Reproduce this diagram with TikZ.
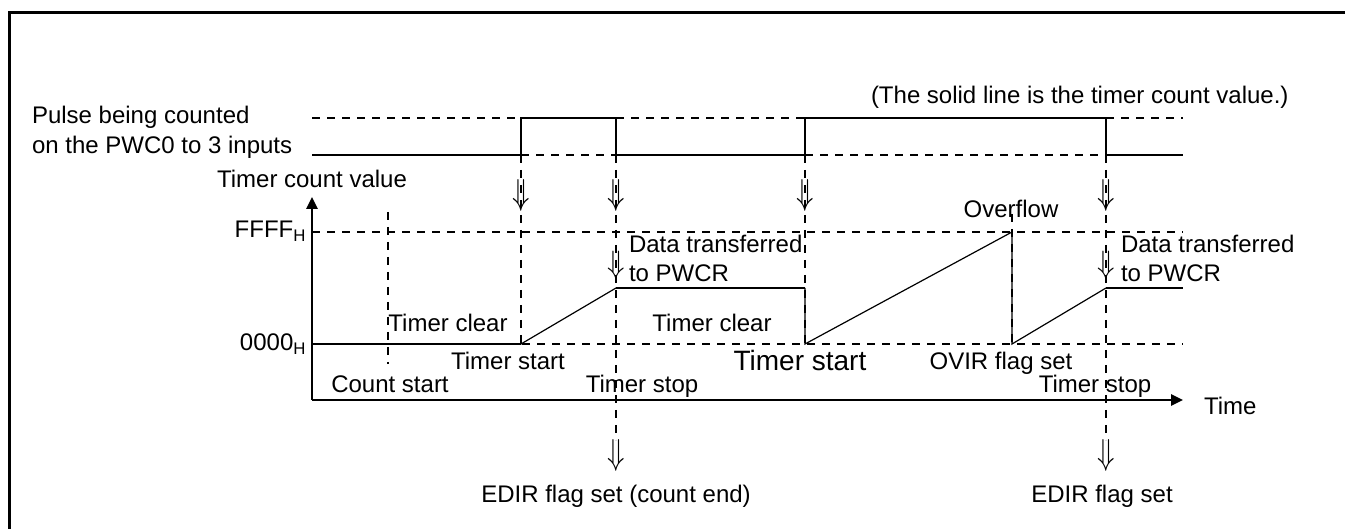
\documentclass[tikz,border=0pt]{standalone}
\usepackage{fontspec}
\setmainfont{Liberation Sans}
\usetikzlibrary{arrows.meta}

\begin{document}
\begin{tikzpicture}[x=1pt, y=-1pt, line width=2pt,
    dashln/.style={line width=1.8pt, dash pattern=on 8pt off 7pt},
    lbl/.style={font=\fontsize{24}{28}\selectfont, inner sep=0pt},
    dnarr/.style={font=\fontsize{24}{28}\selectfont, inner sep=0pt}]
  \useasboundingbox (0,0) rectangle (1345,529);
  % frame (only top and left edges show)
  \draw[line width=3pt] (9,529) -- (9,13) -- (1345,13);

  % input pulse
  \draw[line width=2.2pt] (312,155) -- (521,155) -- (521,118) -- (616,118) -- (616,155)
      -- (805,155) -- (805,118) -- (1106,118) -- (1106,155) -- (1183,155);
  \draw[dashln] (312,118) -- (521,118) (616,118) -- (805,118) (1106,118) -- (1183,118);
  \draw[dashln] (521,155) -- (616,155) (805,155) -- (1106,155);
  \node[lbl, anchor=base west] (pulse1) at (31,124) {Pulse being counted};
  \node[lbl, anchor=base west] (pulse2) at (31,154) {on the PWC0 to 3 inputs};
  \node[lbl, anchor=base west] (note) at (870,104) {(The solid line is the timer count value.)};

  % axes
  \coordinate (o) at (312,400);
  \draw[line width=2.5pt, -{Triangle[length=12pt, width=11pt]}] (o) -- (312,197);
  \draw[line width=2.5pt, -{Triangle[length=12pt, width=11pt]}] (o) -- (1183,400);
  \node[lbl, anchor=base] (yname) at (312,188) {Timer count value};
  \node[lbl, anchor=base west] (xname) at (1203,415) {Time};

  % levels
  \draw[dashln] (312,232) -- (1183,232);
  \draw[dashln] (312,344) -- (1183,344);
  \node[lbl, anchor=base east] (ffff) at (307,238) {FFFF\textsubscript{H}};
  \node[lbl, anchor=base east] (zero) at (307,351) {0000\textsubscript{H}};

  % event lines
  \draw[dashln] (388,212) -- (388,364);
  \draw[dashln] (521,155) -- (521,348);
  \draw[dashln] (616,155) -- (616,440);
  \draw[dashln] (805,155) -- (805,348);
  \draw[dashln] (1012,214) -- (1012,344);
  \draw[dashln] (1106,155) -- (1106,440);

  % timer count value
  \draw[line width=1.5pt] (312,344) -- (521,344);
  \draw[line width=1.2pt] (521,344) -- (616,288);
  \draw[line width=2.2pt] (616,288) -- (805,288);
  \draw[line width=1.2pt] (805,288) -- (805,344) -- (1012,232) -- (1012,344) -- (1106,288);
  \draw[line width=2.2pt] (1106,288) -- (1183,288);

  % arrows
  \node[dnarr] (a1) at (521,195) {\scalebox{1.15}[1.45]{$\Downarrow$}};
  \node[dnarr] (a2) at (616,195) {\scalebox{1.15}[1.45]{$\Downarrow$}};
  \node[dnarr] (a3) at (805,195) {\scalebox{1.15}[1.45]{$\Downarrow$}};
  \node[dnarr] (a4) at (1106,195) {\scalebox{1.15}[1.45]{$\Downarrow$}};
  \node[dnarr] (b1) at (616,265) {\scalebox{1.15}[1.3]{$\Downarrow$}};
  \node[dnarr] (b2) at (1106,265) {\scalebox{1.15}[1.3]{$\Downarrow$}};
  \node[dnarr] (c1) at (616,455) {\scalebox{1.15}[1.45]{$\Downarrow$}};
  \node[dnarr] (c2) at (1106,455) {\scalebox{1.15}[1.45]{$\Downarrow$}};

  % event labels
  \node[lbl, anchor=base] (ovf) at (1011,218) {Overflow};
  \node[lbl, anchor=base west] (xfer1) at (628,253) {Data transferred};
  \node[lbl, anchor=base west] (xfer1b) at (628,282) {to PWCR};
  \node[lbl, anchor=base west] (xfer2) at (1120,253) {Data transferred};
  \node[lbl, anchor=base west] (xfer2b) at (1120,282) {to PWCR};
  \node[lbl, anchor=base] (clr1) at (448,332) {Timer clear};
  \node[lbl, anchor=base] (clr2) at (712,332) {Timer clear};
  \node[lbl, anchor=base] (start1) at (508,370) {Timer start};
  \node[lbl, anchor=base, font=\fontsize{28}{30}\selectfont] (start2) at (800,371) {Timer start};
  \node[lbl, anchor=base] (ovir) at (1001,370) {OVIR flag set};
  \node[lbl, anchor=base] (cnt) at (390,392) {Count start};
  \node[lbl, anchor=base] (stop1) at (642,392) {Timer stop};
  \node[lbl, anchor=base] (stop2) at (1095,392) {Timer stop};
  \node[lbl, anchor=base] (edir1) at (616,502) {EDIR flag set (count end)};
  \node[lbl, anchor=base] (edir2) at (1102,502) {EDIR flag set};
\end{tikzpicture}
\end{document}
